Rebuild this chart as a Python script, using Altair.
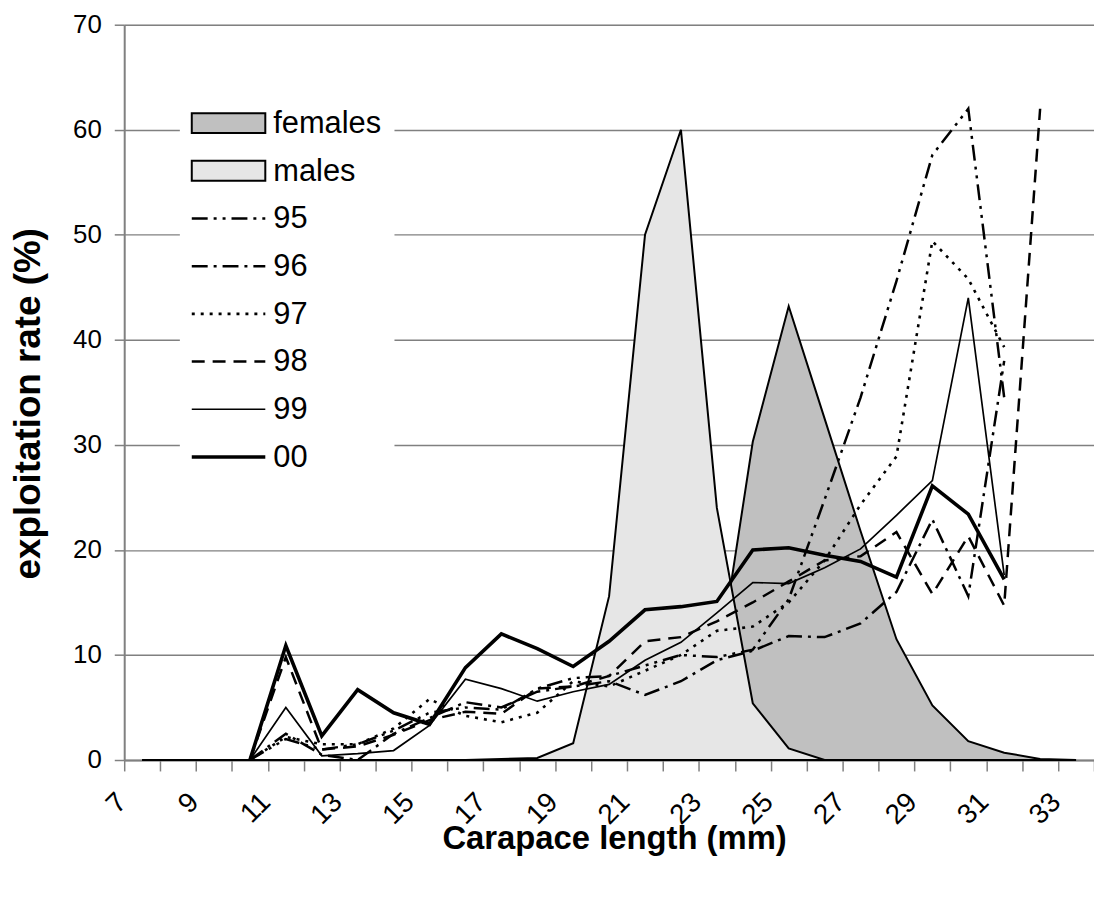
import altair as alt
import pandas as pd

# Carapace length classes (mm)
lengths = list(range(7, 34))

# Length-frequency outlines (drawn as filled areas)
females = [0, 0, 0, 0, 0, 0, 0, 0, 0, 0, 0, 0, 0, 0, 0, 0.5, 8.0, 30.3, 43.2, 32.5, 21.8, 11.5, 5.2, 1.8, 0.7, 0.1, 0]
males = [0, 0, 0, 0, 0, 0, 0, 0, 0, 0, 0.1, 0.2, 1.6, 15.6, 50.0, 60.0, 24.0, 5.4, 1.1, 0, 0, 0, 0, 0, 0, 0, 0]

# Exploitation rate per season, lengths 10..32 (None = no value)
line_lengths = list(range(10, 33))
rate_95 = [0, 2.0, 1.0, 1.5, 2.8, 4.5, 5.0, 4.8, 6.8, 7.8, 8.0, 9.0, 10.0, 9.8, 10.5, 15.3, 24.8, 34.5, 45.6, 57.6, 62.0, 34.5, None]
rate_96 = [0, 2.5, 0.5, 0.0, 2.5, 4.0, 5.5, 5.0, 6.5, 7.0, 7.5, 6.2, 7.5, 9.5, 10.4, 11.8, 11.7, 13.0, 16.0, 22.9, 15.6, 38.0, None]
rate_97 = [0, 2.2, 1.5, 1.5, 3.0, 5.8, 4.2, 3.6, 4.5, 7.5, 7.0, 8.5, 10.0, 12.3, 12.7, 15.0, 19.0, 24.3, 28.9, 49.4, 45.8, 39.3, None]
rate_98 = [0, 9.8, 1.0, 1.3, 2.4, 3.8, 4.6, 4.4, 6.8, 7.0, 8.0, 11.3, 11.7, 13.2, 15.0, 17.0, 19.0, 19.4, 21.7, 15.8, 21.3, 14.7, 62.0]
rate_99 = [0, 5.0, 0.4, 0.6, 0.9, 3.3, 7.7, 6.8, 5.6, 6.5, 7.2, 9.5, 11.2, 14.0, 16.9, 16.8, 18.3, 20.1, 23.3, 26.6, 44.0, 17.6, None]
rate_00 = [0, 10.9, 2.3, 6.7, 4.5, 3.4, 8.8, 12.0, 10.6, 8.9, 11.3, 14.3, 14.6, 15.1, 20.0, 20.2, 19.5, 18.9, 17.4, 26.1, 23.4, 17.2, None]

seasons = ["95", "96", "97", "98", "99", "00"]
season_rates = [rate_95, rate_96, rate_97, rate_98, rate_99, rate_00]

FONT = "Liberation Sans"
GRID = "#808080"
FEMALE_FILL = "#c0c0c0"
MALE_FILL = "#e6e6e6"

areas = pd.DataFrame({"length": lengths, "females": females, "males": males})
rows = []
for name, vals in zip(seasons, season_rates):
    for L, v in zip(line_lengths, vals):
        if v is not None:
            rows.append({"length": L, "rate": v, "season": name})
lines = pd.DataFrame(rows)

x_enc = alt.X(
    "length:Q",
    scale=alt.Scale(domain=[6.5, 33.5], nice=False, zero=False),
    axis=alt.Axis(
        values=[6.5 + i for i in range(28)],
        labelExpr="(datum.value - 6.5) % 2 == 0 ? format(datum.value + 0.5, 'd') : ''",
        labelAngle=-45, labelAlign="right", labelBaseline="top",
        labelPadding=17, labelOffset=-12, labelFontSize=28, labelFont=FONT, labelColor="black",
        tickSize=11, tickColor=GRID, tickWidth=1.5,
        domainColor=GRID, domainWidth=2, grid=False,
        title="Carapace length (mm)", titleFont=FONT, titleFontSize=33,
        titleFontWeight="bold", titleColor="black",
        titleX=493, titleY=79, titleAlign="center", titleBaseline="middle",
    ),
)
y_scale = alt.Scale(domain=[0, 70], nice=False)
y_axis = alt.Axis(
    values=list(range(0, 71, 10)),
    grid=True, gridColor=GRID, gridWidth=1.4,
    tickSize=10, tickColor=GRID, tickWidth=1.5,
    domainColor=GRID, domainWidth=2,
    labelPadding=13, labelFontSize=26, labelFont=FONT, labelColor="black",
    title="exploitation rate (%)", titleFont=FONT, titleFontSize=37,
    titleFontWeight="bold", titleColor="black",
    titleX=-96, titleY=381, titleAlign="center", titleBaseline="middle", titleAngle=-90,
)

base_area = alt.Chart(areas)
females_layer = base_area.mark_area(fill=FEMALE_FILL, stroke="black", strokeWidth=2).encode(
    x=x_enc, y=alt.Y("females:Q", scale=y_scale, axis=y_axis)
)
males_layer = base_area.mark_area(fill=MALE_FILL, stroke="black", strokeWidth=2).encode(
    x=x_enc, y=alt.Y("males:Q", scale=y_scale, axis=y_axis)
)

styles = {
    "95": dict(strokeDash=[16, 6, 3, 6, 3, 6], strokeWidth=2.5),
    "96": dict(strokeDash=[16, 6, 3, 6], strokeWidth=2.5),
    "97": dict(strokeDash=[3, 6], strokeWidth=2.6),
    "98": dict(strokeDash=[13, 8], strokeWidth=2.5),
    "99": dict(strokeWidth=1.7),
    "00": dict(strokeWidth=3.6),
}

line_layers = []
for name in seasons:
    line_layers.append(
        alt.Chart(lines).transform_filter(alt.datum.season == name)
        .mark_line(color="black", **styles[name])
        .encode(x=x_enc, y=alt.Y("rate:Q", scale=y_scale, axis=y_axis))
    )

# Legend box drawn inside the plot area
one = pd.DataFrame({"k": [0]})
legend_layers = [
    alt.Chart(one).mark_rect(fill="white").encode(
        x=alt.value(56), x2=alt.value(272), y=alt.value(74), y2=alt.value(458)
    )
]
legend_labels = ["females", "males"] + seasons
row_gap = 48
legend_y = [99 + row_gap * i for i in range(len(legend_labels))]
swatch_fill = {"females": FEMALE_FILL, "males": MALE_FILL}
for lab, yy in zip(legend_labels, legend_y):
    if lab in swatch_fill:
        legend_layers.append(
            alt.Chart(one).mark_rect(
                fill=swatch_fill[lab], stroke="black", strokeWidth=2
            ).encode(x=alt.value(68), x2=alt.value(142), y=alt.value(yy - 10), y2=alt.value(yy + 10))
        )
    else:
        legend_layers.append(
            alt.Chart(one).mark_rule(color="black", **styles[lab]).encode(
                x=alt.value(68), x2=alt.value(142), y=alt.value(yy)
            )
        )
legend_text = pd.DataFrame({"label": legend_labels, "py": legend_y})
legend_layers.append(
    alt.Chart(legend_text).mark_text(
        align="left", baseline="middle", font=FONT, fontSize=31, color="black", dy=1
    ).encode(x=alt.value(150), y=alt.Y("py:Q", scale=None), text="label:N")
)

chart = alt.layer(
    females_layer, males_layer, *line_layers, *legend_layers
).properties(
    width=976, height=740,
    autosize=alt.AutoSizeParams(type="none"),
    padding={"left": 125, "top": 22, "right": 0, "bottom": 137},
).configure_view(stroke=None).configure(background="white")

chart.save("out.html", embed_options={"renderer": "svg", "actions": False})
